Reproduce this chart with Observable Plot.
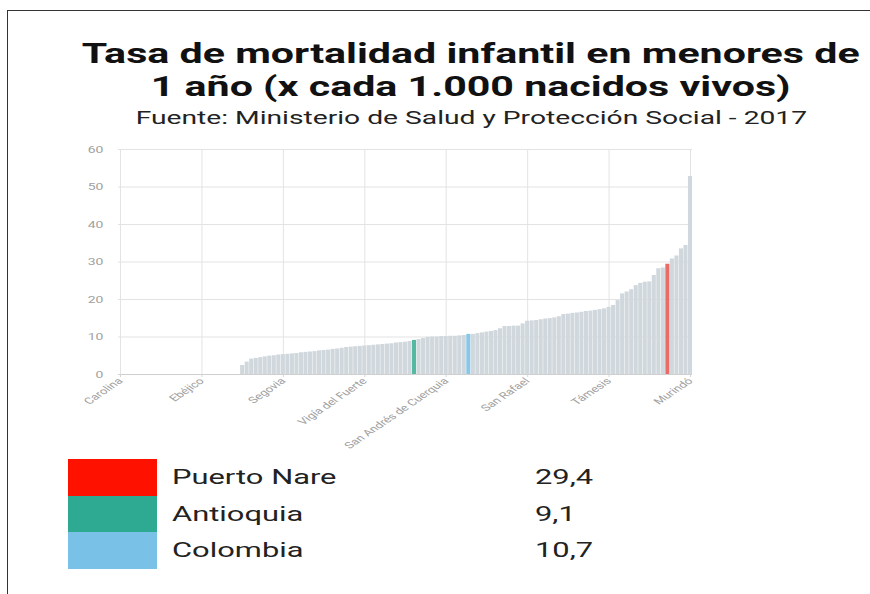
<!DOCTYPE html>
<html>
<head>
<meta charset="utf-8">
<script src="https://cdn.jsdelivr.net/npm/d3@7"></script>
<script src="https://cdn.jsdelivr.net/npm/@observablehq/plot@0.6"></script>
<style>
  html, body { margin: 0; padding: 0; background: #fff; }
  #page { position: relative; width: 870px; height: 594px; overflow: hidden; font-family: Roboto, "Noto Sans", sans-serif; }
  #frame { position: absolute; left: 7px; top: 10px; width: 880px; height: 600px; border-top: 1.5px solid #333; border-left: 1.5px solid #333; }
  .stretch { display: inline-block; transform: scaleX(1.47); white-space: nowrap; }
  #title { position: absolute; left: 36px; width: 870px; top: 37px; text-align: center; font-size: 28px; line-height: 33px; font-weight: 700; color: #111; }
  #title .stretch { transform-origin: center; }
  #subtitle { position: absolute; left: 36px; width: 870px; top: 107px; text-align: center; font-size: 19.2px; line-height: 22px; color: #222; }
  #subtitle .stretch { transform-origin: center; }
  #chart { position: absolute; left: 0; top: 140px; }
  .lg-row { position: absolute; left: 68px; height: 37px; width: 600px; }
  .lg-box { position: absolute; left: 0; top: 0; width: 89px; height: 37px; }
  .lg-name { position: absolute; left: 104px; top: 0; line-height: 37px; font-size: 21px; color: #222; transform-origin: left center; }
  .lg-val { position: absolute; left: 467px; top: 0; line-height: 37px; font-size: 21px; color: #222; transform-origin: left center; }
</style>
</head>
<body>
<div id="page">
  <div id="frame"></div>
  <div id="title"><span class="stretch">Tasa de mortalidad infantil en menores de</span><br><span class="stretch">1 año (x cada 1.000 nacidos vivos)</span></div>
  <div id="subtitle"><span class="stretch">Fuente: Ministerio de Salud y Protección Social - 2017</span></div>
  <div id="chart"></div>
  <div id="legend"></div>
</div>
<script>
// Rates per 1,000 live births, sorted ascending (125 municipalities + Antioquia + Colombia)
const values = [
  0,0,0,0,0,0,0,0,0,0, 0,0,0,0,0,0,0,0,0,0, 0,0,0,0,0,0,0,
  2.4,3.3,4.1,4.3,4.5,4.7,4.9,5.0,5.2,
  5.3,5.4,5.5,5.6,5.8,5.9,6.0,6.1,6.3,6.4,6.5,6.7,6.8,7.0,7.2,
  7.3,7.4,7.5,7.6,7.7,7.8,7.9,8.0,8.1,8.2,8.4,8.5,8.6,8.8,
  9.1,
  9.3,9.6,9.9,10.0,10.0,10.1,10.1,10.2,10.2,10.3,10.4,
  10.7,
  10.7,10.9,11.1,11.3,11.5,11.7,12.2,12.8,12.8,12.9,12.9,13.5,14.2,14.3,14.4,14.6,14.8,14.9,15.1,15.4,
  16.0,16.1,16.3,16.4,16.6,16.8,16.9,17.1,17.3,17.5,17.9,18.4,19.7,21.5,22.0,22.6,23.7,24.3,24.6,24.7,
  26.4,28.2,28.4,
  29.4,
  30.8,31.6,33.5,34.4,52.8
];
const tickIndex = [0, 18, 36, 54, 72, 90, 108, 126];
const tickLabels = ["Carolina", "Ebéjico", "Segovia", "Vigía del Fuerte", "San Andrés de Cuerquia", "San Rafael", "Támesis", "Murindó"];

const highlightNames = ["Puerto Nare", "Antioquia", "Colombia"];
const highlightValues = ["29,4", "9,1", "10,7"];
const highlightIndex = [121, 65, 77];
const highlightBarColors = ["#ec6b66", "#55b9a2", "#86c7ea"];
const legendColors = ["#ff1100", "#2faa92", "#7ac1e8"];
const baseColor = "#d0d8dd";

const yTicks = [0, 10, 20, 30, 40, 50, 60];
const STRETCH = 1.47;

const data = values.map((v, i) => {
  const h = highlightIndex.indexOf(i);
  return {i, v, c: h >= 0 ? highlightBarColors[h] : baseColor};
});

const chart = Plot.plot({
  width: 870,
  height: 320,
  marginLeft: 117.96,
  marginRight: 177.96,
  marginTop: 9,
  marginBottom: 86,
  style: {fontFamily: "Roboto, sans-serif", background: "transparent"},
  x: {type: "band", domain: d3.range(values.length), paddingInner: 0.1, paddingOuter: 0},
  y: {domain: [0, 60]},
  color: {type: "identity"},
  marks: [
    Plot.gridY(yTicks, {stroke: "#e3e3e3", strokeOpacity: 1}),
    Plot.gridX(tickIndex, {stroke: "#e3e3e3", strokeOpacity: 1}),
    Plot.barY(data, {x: "i", y: "v", fill: "c"}),
    Plot.ruleY([0], {stroke: "#cfcfcf"}),
    Plot.axisY(yTicks, {tickSize: 0, tickPadding: 15, fontSize: 9.5, fill: "#a0a0a0", label: null}),
    Plot.axisX(tickIndex, {
      tickSize: 3, tickPadding: 2, stroke: "#d5d5d5", fontSize: 9, fill: "#a0a0a0",
      tickRotate: -45, label: null,
      tickFormat: i => tickLabels[tickIndex.indexOf(i)]
    })
  ]
});
document.getElementById("chart").appendChild(chart);

// The reference is stretched horizontally: stretch axis label glyphs about their anchor point.
d3.select(chart).selectAll('g[aria-label="x-axis tick label"] text, g[aria-label="y-axis tick label"] text').each(function() {
  const t = this.getAttribute("transform");
  if (t && /translate\([^)]*\)/.test(t)) {
    this.setAttribute("transform", t.replace(/(translate\([^)]*\))/, `$1 scale(${STRETCH},1)`));
  } else {
    const x = +this.getAttribute("x") || 0, y = +this.getAttribute("y") || 0;
    this.removeAttribute("x"); this.removeAttribute("y");
    this.setAttribute("transform", `translate(${x},${y}) scale(${STRETCH},1)` + (t ? " " + t : ""));
  }
});

const legend = document.getElementById("legend");
highlightNames.forEach((name, k) => {
  const row = document.createElement("div");
  row.className = "lg-row";
  row.style.top = (459 + k * 36.5) + "px";
  row.innerHTML = `<div class="lg-box" style="background:${legendColors[k]}"></div>` +
    `<div class="lg-name stretch">${name}</div><div class="lg-val stretch">${highlightValues[k]}</div>`;
  legend.appendChild(row);
});
</script>
</body>
</html>
